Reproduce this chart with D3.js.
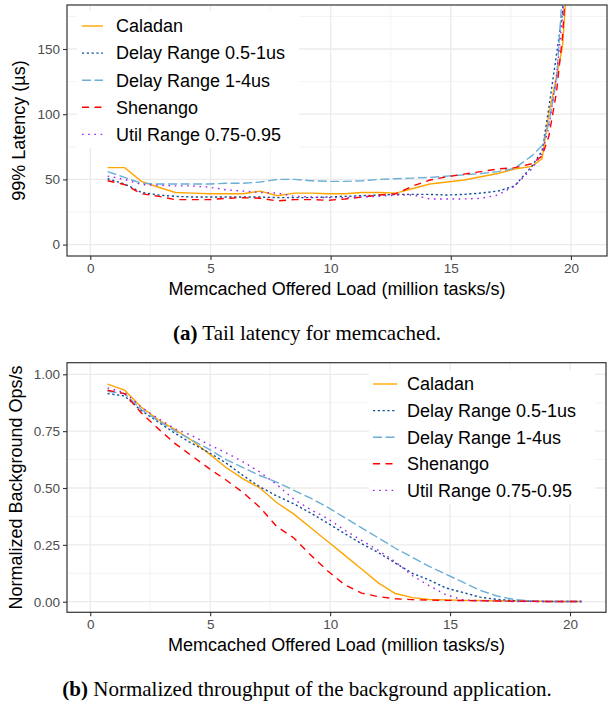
<!DOCTYPE html>
<html>
<head>
<meta charset="utf-8">
<script src="https://cdn.jsdelivr.net/npm/d3@7"></script>
<style>
  body { margin: 0; background: #fff; }
  svg { display: block; }
</style>
</head>
<body>
<svg id="canvas" width="608" height="706"></svg>
<script>
// offered load (million tasks/s)
const loads = [0.72, 1.43, 2.13, 2.84, 3.54, 4.25, 4.96, 5.66, 6.37, 7.07, 7.78, 8.49, 9.19, 9.9, 10.6, 11.31,
  12.02, 12.72, 13.43, 14.13, 14.84, 15.55, 16.25, 16.96, 17.66, 18.37, 18.8, 19.08, 19.4, 19.65, 19.9, 20.49];

const seriesNames = ["Caladan", "Delay Range 0.5-1us", "Delay Range 1-4us", "Shenango", "Util Range 0.75-0.95"];

// 99% latency (us)
const latCaladan = [59, 59, 48.5, 44, 40, 39.5, 39, 39, 39, 41, 37.5, 39.5, 39.5, 39, 39, 40,
  40, 39.5, 43, 46.5, 48, 49.5, 52, 54.5, 58, 60, 66, 100, 129, 152, 220, 400];
const latDelay05 = [50.5, 46.5, 40, 38, 37, 36.5, 36.5, 36.5, 36.5, 36.5, 36, 36, 36, 36.5, 37, 37.5,
  38, 38.5, 38.5, 38.5, 38, 38.5, 39.5, 41, 45, 60, 72, 105, 146, 178, 260, 500];
const latDelay14 = [56, 51.5, 47, 46.5, 46.5, 46.5, 46.5, 47, 47, 48, 50, 50, 49, 48.5, 48.5, 49,
  50, 50.5, 51, 51.5, 52.5, 53.5, 54.5, 56, 58.5, 68, 76, 93, 126, 195, 300, 500];
const latShenango = [49, 46, 39, 37, 34.5, 34.5, 34.5, 35.5, 36, 35.5, 33.5, 34.5, 34.5, 34, 35, 36.5,
  38, 39, 45, 49.5, 52, 54, 56, 58, 59, 62, 68, 83, 117, 160, 230, 500];
const latUtil = [52.5, 50, 46, 45.5, 45, 45, 44, 42, 41, 40, 39.5, 37, 36.5, 36, 36, 36.5,
  37, 38, 38, 35, 35, 35, 35.5, 38, 45, 58, 70, 90, 130, 175, 260, 500];

// normalized background ops/s
const tputCaladan = [0.957, 0.93, 0.855, 0.8, 0.757, 0.708, 0.65, 0.59, 0.54, 0.5, 0.435, 0.385, 0.325, 0.265, 0.205, 0.144,
  0.082, 0.036, 0.018, 0.01, 0.008, 0.006, 0.005, 0.004, 0.003, 0.002, 0.002, 0.001, 0.001, 0.001, 0.001, 0.001];
const tputDelay05 = [0.915, 0.905, 0.84, 0.79, 0.74, 0.695, 0.655, 0.61, 0.555, 0.505, 0.465, 0.43, 0.39, 0.345, 0.3, 0.255,
  0.215, 0.17, 0.125, 0.095, 0.06, 0.04, 0.02, 0.01, 0.005, 0.002, 0.001, 0.001, 0.001, 0.001, 0.001, 0.001];
const tputDelay14 = [0.925, 0.915, 0.845, 0.795, 0.75, 0.71, 0.67, 0.625, 0.59, 0.555, 0.525, 0.49, 0.455, 0.415, 0.37, 0.325,
  0.28, 0.235, 0.195, 0.155, 0.12, 0.085, 0.05, 0.025, 0.01, 0.004, 0.002, 0.001, 0.001, 0.001, 0.001, 0.001];
const tputShenango = [0.93, 0.915, 0.83, 0.76, 0.695, 0.64, 0.585, 0.535, 0.48, 0.415, 0.33, 0.28, 0.205, 0.135, 0.075, 0.038,
  0.022, 0.013, 0.009, 0.007, 0.006, 0.005, 0.004, 0.003, 0.002, 0.002, 0.001, 0.001, 0.001, 0.001, 0.001, 0.001];
const tputUtil = [0.94, 0.92, 0.855, 0.805, 0.76, 0.73, 0.69, 0.655, 0.615, 0.57, 0.515, 0.45, 0.405, 0.365, 0.315, 0.27,
  0.225, 0.175, 0.115, 0.07, 0.03, 0.008, 0.004, 0.002, 0.001, 0.001, 0.001, 0.001, 0.001, 0.001, 0.001, 0.001];

const xTicks = [0, 5, 10, 15, 20];
const latTicks = [0, 50, 100, 150];
const tputTicks = [0, 0.25, 0.5, 0.75, 1];

const styles = {
  "Caladan": { color: "#FFA500", dash: null },
  "Delay Range 0.5-1us": { color: "#104E9B", dash: "2.2,2.6" },
  "Delay Range 1-4us": { color: "#6BAED6", dash: "9,3.5" },
  "Shenango": { color: "#FF0000", dash: "7,5.5" },
  "Util Range 0.75-0.95": { color: "#A020F0", dash: "1.6,4.6" }
};

const svg = d3.select("#canvas");
const sans = "'Liberation Sans', Arial, Helvetica, sans-serif";
const serif = "'Liberation Serif', 'Times New Roman', serif";

const drawPanel = (opts) => {
  const { top, bottom, left, right, yDomain, yTicks, yFormat, series, yTitle, titleX, legend, caption, clipId } = opts;
  const x = d3.scaleLinear().domain([-0.97, 21.5]).range([left, right]);
  const y = d3.scaleLinear().domain(yDomain).range([bottom, top]);
  const g = svg.append("g");

  // grid
  const xMinor = d3.range(-2.5, 22.5, 5).filter((v) => v > -0.97 && v < 21.5);
  const step = yTicks[1] - yTicks[0];
  const yMinor = d3.range(yTicks[0] - step / 2, yDomain[1], step).filter((v) => v > yDomain[0] && v < yDomain[1]);
  g.selectAll(".xminor").data(xMinor).enter().append("line")
    .attr("x1", (d) => x(d)).attr("x2", (d) => x(d)).attr("y1", top).attr("y2", bottom)
    .attr("stroke", "#F0F0F0").attr("stroke-width", 0.8);
  g.selectAll(".yminor").data(yMinor).enter().append("line")
    .attr("x1", left).attr("x2", right).attr("y1", (d) => y(d)).attr("y2", (d) => y(d))
    .attr("stroke", "#F0F0F0").attr("stroke-width", 0.8);
  g.selectAll(".xmajor").data(xTicks).enter().append("line")
    .attr("x1", (d) => x(d)).attr("x2", (d) => x(d)).attr("y1", top).attr("y2", bottom)
    .attr("stroke", "#EBEBEB").attr("stroke-width", 1.3);
  g.selectAll(".ymajor").data(yTicks).enter().append("line")
    .attr("x1", left).attr("x2", right).attr("y1", (d) => y(d)).attr("y2", (d) => y(d))
    .attr("stroke", "#EBEBEB").attr("stroke-width", 1.3);

  // clip
  svg.append("clipPath").attr("id", clipId).append("rect")
    .attr("x", left).attr("y", top).attr("width", right - left).attr("height", bottom - top);

  const line = d3.line().x((d) => x(d[0])).y((d) => y(d[1]));
  const lines = g.append("g").attr("clip-path", `url(#${clipId})`);
  seriesNames.forEach((name, i) => {
    const pts = loads.map((l, j) => [l, series[i][j]]);
    lines.append("path")
      .attr("d", line(pts))
      .attr("fill", "none")
      .attr("stroke", styles[name].color)
      .attr("stroke-width", 1.4)
      .attr("stroke-dasharray", styles[name].dash);
  });

  // legend
  const lg = g.append("g");
  lg.append("rect")
    .attr("x", legend.x).attr("y", legend.y).attr("width", legend.w).attr("height", legend.h)
    .attr("fill", "#fff");
  seriesNames.forEach((name, i) => {
    const cy = legend.rowY + i * legend.rowH;
    lg.append("line")
      .attr("x1", legend.keyX).attr("x2", legend.keyX + legend.keyW)
      .attr("y1", cy).attr("y2", cy)
      .attr("stroke", styles[name].color).attr("stroke-width", 1.4)
      .attr("stroke-dasharray", styles[name].dash);
    lg.append("text")
      .attr("x", legend.textX).attr("y", cy).attr("dy", "0.35em")
      .attr("font-family", sans).attr("font-size", 18).attr("fill", "#000")
      .text(name);
  });

  // border
  g.append("rect")
    .attr("x", left).attr("y", top).attr("width", right - left).attr("height", bottom - top)
    .attr("fill", "none").attr("stroke", "#333").attr("stroke-width", 1.2);

  // axes
  const xAxis = g.append("g").attr("transform", `translate(0,${bottom})`)
    .call(d3.axisBottom(x).tickValues(xTicks).tickSize(4).tickPadding(3).tickFormat(d3.format("d")));
  const yAxis = g.append("g").attr("transform", `translate(${left},0)`)
    .call(d3.axisLeft(y).tickValues(yTicks).tickSize(4).tickPadding(3).tickFormat(yFormat));
  [xAxis, yAxis].forEach((a) => {
    a.select(".domain").remove();
    a.selectAll(".tick line").attr("stroke", "#333").attr("stroke-width", 1.1);
    a.selectAll(".tick text").attr("fill", "#4D4D4D").attr("font-family", sans).attr("font-size", 13.5);
  });

  g.append("text")
    .attr("x", (left + right) / 2).attr("y", bottom + 39)
    .attr("text-anchor", "middle").attr("font-family", sans).attr("font-size", 18)
    .text("Memcached Offered Load (million tasks/s)");
  g.append("text")
    .attr("transform", `translate(${titleX},${(top + bottom) / 2}) rotate(-90)`)
    .attr("text-anchor", "middle").attr("font-family", sans).attr("font-size", 18)
    .text(yTitle);

  const cap = g.append("text")
    .attr("x", 307).attr("y", bottom + 84)
    .attr("text-anchor", "middle").attr("font-family", serif).attr("font-size", 21);
  cap.append("tspan").attr("font-weight", "bold").text(caption[0]);
  cap.append("tspan").text(caption[1]);
};

drawPanel({
  top: 5, bottom: 256, left: 67, right: 607,
  yDomain: [-8.75, 183.75], yTicks: latTicks, yFormat: d3.format("d"),
  series: [latCaladan, latDelay05, latDelay14, latShenango, latUtil],
  yTitle: "99% Latency (\u00b5s)", titleX: 25,
  legend: { x: 77, y: 11, w: 222, h: 137, rowY: 26, rowH: 27.1, keyX: 82, keyW: 21, textX: 116 },
  caption: ["(a)", " Tail latency for memcached."], clipId: "clipA"
});

drawPanel({
  top: 362.7, bottom: 612.3, left: 67, right: 606,
  yDomain: [-0.0466, 1.051], yTicks: tputTicks, yFormat: d3.format(".2f"),
  series: [tputCaladan, tputDelay05, tputDelay14, tputShenango, tputUtil],
  yTitle: "Normalized Background Ops/s", titleX: 22,
  legend: { x: 369, y: 370, w: 226, h: 134, rowY: 384, rowH: 26.6, keyX: 373, keyW: 24, textX: 407 },
  caption: ["(b)", " Normalized throughput of the background application."], clipId: "clipB"
});
</script>
</body>
</html>
